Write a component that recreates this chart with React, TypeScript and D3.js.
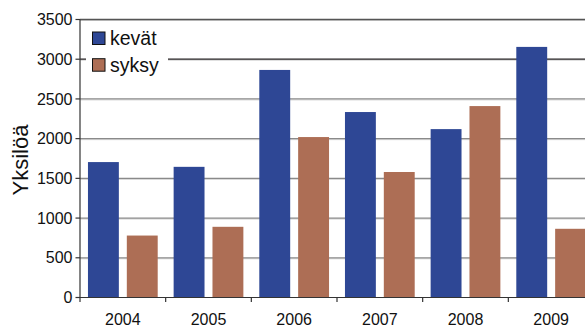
import React from "react";
import * as d3 from "d3";

const years = ["2004", "2005", "2006", "2007", "2008", "2009"];
const kevat = [1705, 1645, 2865, 2335, 2120, 3155];
const syksy = [780, 890, 2020, 1580, 2410, 865];
const seriesNames = ["kevät", "syksy"];
const seriesColors = ["#2E4795", "#AD6E55"];
const yTicks = [0, 500, 1000, 1500, 2000, 2500, 3000, 3500];

const W = 585;
const H = 329;
const left = 80;
const right = 594;
const top = 19.5;
const bottom = 297.5;
const font = "'Liberation Sans', Arial, sans-serif";

export default function App() {
  const x = d3.scaleBand<string>().domain(years).range([left, right]).padding(0);
  const inner = d3
    .scaleBand<string>()
    .domain(seriesNames)
    .range([0, x.bandwidth()])
    .paddingInner(0.205)
    .paddingOuter(0.205);
  const y = d3.scaleLinear().domain([0, 3500]).range([bottom, top]);
  const series = [kevat, syksy];

  return (
    <svg
      width={W}
      height={H}
      style={{ position: "absolute", left: 0, top: 0, background: "#fff" }}
      fontFamily={font}
    >
      {/* gridlines */}
      {yTicks.slice(1).map((t) => (
        <g key={t}>
          <line
            x1={left}
            x2={W}
            y1={y(t) + 1}
            y2={y(t) + 1}
            stroke="#d4d4d4"
            strokeWidth={1}
          />
          <line
            x1={left}
            x2={W}
            y1={y(t)}
            y2={y(t)}
            stroke={t === 3000 ? "#231f20" : t === 3500 ? "#555" : "#8a8a8a"}
            strokeWidth={1.3}
          />
        </g>
      ))}

      {/* legend */}
      <rect x={86} y={22} width={82} height={56} fill="#fff" />
      {seriesNames.map((name, i) => (
        <g key={name}>
          <rect
            x={92.5}
            y={32 + i * 26.7}
            width={12.5}
            height={12.5}
            fill={seriesColors[i]}
            stroke="#111"
            strokeWidth={1}
          />
          <text x={110} y={45 + i * 26.7} fontSize={19.5} fill="#111">
            {name}
          </text>
        </g>
      ))}

      {/* bars */}
      {years.map((yr, i) => (
        <g key={yr} transform={`translate(${x(yr)},0)`}>
          {series.map((vals, s) => (
            <rect
              key={s}
              x={inner(seriesNames[s])}
              y={y(vals[i])}
              width={inner.bandwidth()}
              height={bottom - y(vals[i])}
              fill={seriesColors[s]}
            />
          ))}
        </g>
      ))}

      {/* y axis */}
      <line x1={left} x2={left} y1={top} y2={bottom} stroke="#333" strokeWidth={1.2} />
      {yTicks.map((t) => (
        <g key={t}>
          <line x1={left - 4.5} x2={left} y1={y(t)} y2={y(t)} stroke="#333" strokeWidth={1.2} />
          <text
            x={72.5}
            y={y(t) + 5.6}
            textAnchor="end"
            fontSize={16}
            fill="#111"
          >
            {t}
          </text>
        </g>
      ))}

      {/* x axis */}
      <line x1={left} x2={W} y1={bottom} y2={bottom} stroke="#333" strokeWidth={1.2} />
      {years.map((yr) => (
        <g key={yr}>
          <line
            x1={x(yr)}
            x2={x(yr)}
            y1={bottom}
            y2={bottom + 4.5}
            stroke="#333"
            strokeWidth={1.2}
          />
          <text
            x={(x(yr) as number) + x.bandwidth() / 2}
            y={324.5}
            textAnchor="middle"
            fontSize={16}
            fill="#111"
          >
            {yr}
          </text>
        </g>
      ))}

      {/* y axis title */}
      <text
        transform="translate(28,160) rotate(-90)"
        textAnchor="middle"
        fontSize={22}
        fill="#111"
      >
        Yksilöä
      </text>
    </svg>
  );
}
